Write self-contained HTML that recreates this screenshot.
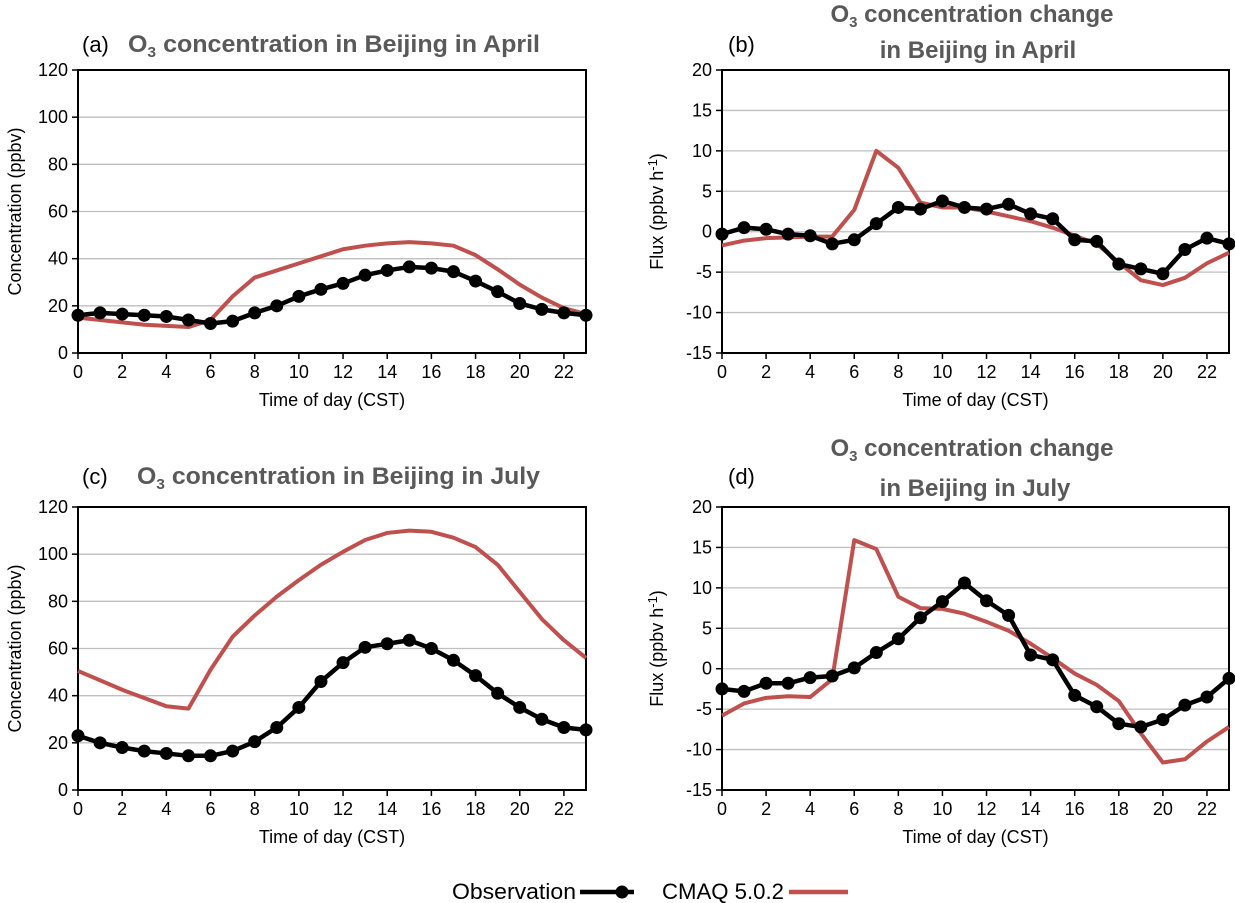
<!DOCTYPE html>
<html><head><meta charset="utf-8"><style>
html,body{margin:0;padding:0;background:#fff;}
svg{display:block;font-family:"Liberation Sans",sans-serif;}
</style></head><body>
<svg id="fig" width="1235" height="903" viewBox="0 0 1235 903"></svg>
<script>
const hours = [0,1,2,3,4,5,6,7,8,9,10,11,12,13,14,15,16,17,18,19,20,21,22,23];
const xTicks = [0,2,4,6,8,10,12,14,16,18,20,22];
const concTicks = [0,20,40,60,80,100,120];
const fluxTicks = [-15,-10,-5,0,5,10,15,20];
const aObs = [16,17,16.5,16,15.5,14,12.5,13.5,17,20,24,27,29.5,33,35,36.5,36,34.5,30.5,26,21,18.5,17,16];
const aMod = [15,14,13,12,11.5,11,14,24,32,35,38,41,44,45.5,46.5,47,46.5,45.5,41.5,35.5,29,23.5,19,16.5];
const bObs = [-0.3,0.5,0.3,-0.3,-0.5,-1.5,-1,1,3,2.8,3.8,3,2.8,3.4,2.2,1.6,-1,-1.2,-4,-4.6,-5.2,-2.2,-0.8,-1.5];
const bMod = [-1.7,-1.1,-0.8,-0.7,-0.6,-0.6,2.7,10,7.9,3.6,3,3,2.5,1.9,1.3,0.5,-0.5,-1.5,-3.8,-6,-6.6,-5.7,-3.9,-2.6];
const cObs = [23,20,18,16.5,15.5,14.5,14.5,16.5,20.5,26.5,35,46,54,60.5,62,63.5,60,55,48.5,41,35,30,26.5,25.5];
const cMod = [50.5,46.5,42.5,39,35.5,34.5,51,65,74,82,89,95.5,101,106,109,110,109.5,107,103,95.5,84,72.5,63.5,56];
const dObs = [-2.5,-2.8,-1.8,-1.8,-1.1,-0.9,0.1,2,3.7,6.3,8.3,10.6,8.4,6.6,1.7,1.1,-3.3,-4.7,-6.8,-7.2,-6.3,-4.5,-3.5,-1.2];
const dMod = [-5.8,-4.3,-3.6,-3.4,-3.5,-1.3,15.9,14.8,8.9,7.5,7.4,6.8,5.8,4.7,3.1,1.3,-0.6,-2,-4,-8,-11.6,-11.2,-9,-7.2];

const NS='http://www.w3.org/2000/svg';
const svg=document.getElementById('fig');
function mk(tag,attrs,parent){const e=document.createElementNS(NS,tag);for(const k in attrs)e.setAttribute(k,attrs[k]);(parent||svg).appendChild(e);return e;}

function panel(id,L,R,T,B,yTicks,obs,mod,ylabel,isFlux){
  const g=mk('g',{});
  
  
  const y0=yTicks[0],y1=yTicks[yTicks.length-1];
  const xs=h=>L+(h/23)*(R-L);
  const ys=v=>B-(v-y0)/(y1-y0)*(B-T);
  yTicks.forEach(t=>{
    if(t!==y0){const gl=mk('line',{x1:L,x2:R,y1:ys(t),y2:ys(t),stroke:'#bfbfbf','stroke-width':1.3},g);
    
    }
    mk('line',{x1:L-6,x2:L,y1:ys(t),y2:ys(t),stroke:'#000','stroke-width':1.5},g);
    const tl=mk('text',{x:L-10,y:ys(t)+6,'text-anchor':'end','font-size':18,fill:'#000'},g);
    tl.textContent=t;
    
    
  });
  xTicks.forEach(t=>{
    mk('line',{x1:xs(t),x2:xs(t),y1:B,y2:B+6,stroke:'#000','stroke-width':1.5},g);
    const tl=mk('text',{x:xs(t),y:B+25,'text-anchor':'middle','font-size':18,fill:'#000'},g);
    tl.textContent=t;
    
    
  });
  const box=mk('rect',{x:L,y:T,width:R-L,height:B-T,fill:'none',stroke:'#000','stroke-width':2},g);
  
  
  const xt=mk('text',{x:(L+R)/2,y:B+53,'text-anchor':'middle','font-size':18,fill:'#000'},g);
  xt.textContent='Time of day (CST)';
  
  
  const yt=mk('text',{x:0,y:0,'text-anchor':'middle','font-size':18,fill:'#000',transform:`translate(${isFlux?L-59:L-57},${(T+B)/2}) rotate(-90)`},g);
  if(isFlux){yt.innerHTML='Flux (ppbv h<tspan dy="-6" font-size="13">-1</tspan><tspan dy="6">)</tspan>';}
  else yt.textContent=ylabel;
  
  
  const mp=mk('polyline',{points:hours.map((h,i)=>xs(h)+','+ys(mod[i])).join(' '),fill:'none',stroke:'#c0504d','stroke-width':4,'stroke-linejoin':'round'},g);
  
  
  const op=mk('polyline',{points:hours.map((h,i)=>xs(h)+','+ys(obs[i])).join(' '),fill:'none',stroke:'#000','stroke-width':4.5,'stroke-linejoin':'round'},g);
  
  
  hours.forEach((h,i)=>{
    const c=mk('circle',{cx:xs(h),cy:ys(obs[i]),r:6.5,fill:'#000'},g);
    
    
  });
}
panel('a',78,586,70,353,concTicks,aObs,aMod,'Concentration (ppbv)',false);
panel('b',722,1229,70,353,fluxTicks,bObs,bMod,'',true);
panel('c',78,586,507,790,concTicks,cObs,cMod,'Concentration (ppbv)',false);
panel('d',722,1229,507,790,fluxTicks,dObs,dMod,'',true);

function txt(x,y,html,attrs,name){const t=mk('text',Object.assign({x:x,y:y},attrs));t.innerHTML=html;
  
  return t;}
const TA={'font-size':24,'font-weight':'bold',fill:'#595959'};
const SUB='O<tspan dy="5" font-size="15">3</tspan><tspan dy="-5"> </tspan>';
txt(82,52,'(a)',{'font-size':22,fill:'#000'},'panel-label-a');
txt(128,52,SUB+'concentration in Beijing in April',Object.assign({textLength:412,lengthAdjust:'spacingAndGlyphs'},TA),'title-a');
txt(728,52,'(b)',{'font-size':22,fill:'#000'},'panel-label-b');
txt(972,22,SUB+'concentration change',Object.assign({'text-anchor':'middle'},TA),'title-b-line1');
txt(978,58,'in Beijing in April',Object.assign({'text-anchor':'middle'},TA),'title-b-line2');
txt(82,484,'(c)',{'font-size':22,fill:'#000'},'panel-label-c');
txt(137,484,SUB+'concentration in Beijing in July',Object.assign({textLength:403,lengthAdjust:'spacingAndGlyphs'},TA),'title-c');
txt(728,484,'(d)',{'font-size':22,fill:'#000'},'panel-label-d');
txt(972,456,SUB+'concentration change',Object.assign({'text-anchor':'middle'},TA),'title-d-line1');
txt(975,496,'in Beijing in July',Object.assign({'text-anchor':'middle'},TA),'title-d-line2');

const lg=mk('g',{});


txt(452,899,'Observation',{'font-size':22,fill:'#000',textLength:124,lengthAdjust:'spacingAndGlyphs'},'legend-observation-label');
mk('line',{x1:580,x2:634,y1:892,y2:892,stroke:'#000','stroke-width':4.5},lg);
mk('circle',{cx:622,cy:892,r:6.5,fill:'#000'},lg);
txt(662,899,'CMAQ 5.0.2',{'font-size':22,fill:'#000',textLength:122,lengthAdjust:'spacingAndGlyphs'},'legend-cmaq-label');
mk('line',{x1:789,x2:848,y1:892,y2:892,stroke:'#c0504d','stroke-width':4.5},lg);
</script>
</body></html>
